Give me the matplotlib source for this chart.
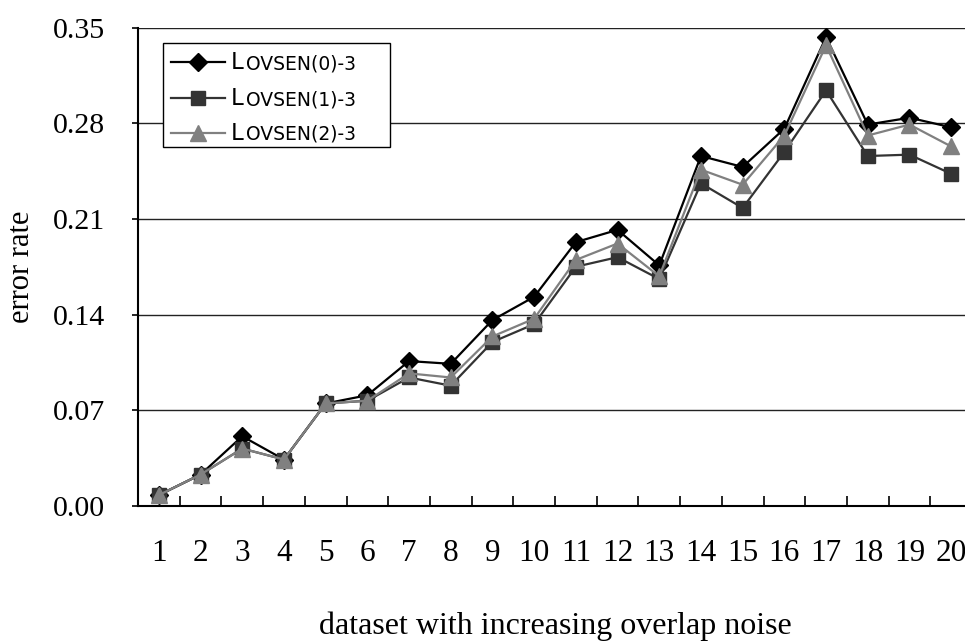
import numpy as np
import matplotlib
matplotlib.use("Agg")
import matplotlib.pyplot as plt
from matplotlib.transforms import Affine2D
from matplotlib.lines import Line2D
from matplotlib.patches import Rectangle

# ---- data ----
datasets = list(range(1, 21))
lovsen0 = [0.008, 0.023, 0.051, 0.034, 0.075, 0.081, 0.106, 0.104, 0.136, 0.153,
           0.193, 0.202, 0.176, 0.256, 0.248, 0.276, 0.343, 0.279, 0.284, 0.277]
lovsen1 = [0.008, 0.023, 0.042, 0.034, 0.075, 0.077, 0.094, 0.088, 0.120, 0.133,
           0.175, 0.182, 0.166, 0.236, 0.218, 0.259, 0.304, 0.256, 0.257, 0.243]
lovsen2 = [0.008, 0.023, 0.042, 0.034, 0.075, 0.077, 0.097, 0.094, 0.124, 0.137,
           0.180, 0.192, 0.168, 0.246, 0.235, 0.271, 0.337, 0.271, 0.279, 0.263]
series_labels = ["OVSEN(0)-3", "OVSEN(1)-3", "OVSEN(2)-3"]
yticks = [0.00, 0.07, 0.14, 0.21, 0.28, 0.35]

W, H = 965, 641
fig = plt.figure(figsize=(W / 100, H / 100), dpi=100)
ax = fig.add_axes([138 / W, (H - 506) / H, 834 / W, (506 - 27.5) / H])

serif = "Liberation Serif"
styles = [
    dict(color="#000000", marker="D", ms=9, mfc="#000000", mec="#000000"),
    dict(color="#333333", marker="s", ms=10, mfc="#333333", mec="#333333"),
    dict(color="#808080", marker="^", ms=11, mfc="#808080", mec="#808080"),
]
for vals, st in zip([lovsen0, lovsen1, lovsen2], styles):
    ax.plot(datasets, vals, lw=1.6, zorder=3, **st)

ax.set_xlim(0.5, 20.5)
ax.set_ylim(0, 0.35)
ax.set_yticks(yticks)
ax.set_yticklabels([f"{v:.2f}" for v in yticks], fontfamily=serif, fontsize=21.5)
ax.set_xticks(datasets)
ax.set_xticklabels([str(d) for d in datasets], fontfamily=serif, fontsize=22.5)
ax.set_xticks(np.arange(1.5, 20.5, 1.0), minor=True)
ax.tick_params(axis="x", which="major", length=0, pad=24)
ax.tick_params(axis="x", which="minor", direction="in", length=7, width=1.2, color="black")
ax.tick_params(axis="y", which="major", direction="out", length=4, width=1.2, pad=20)

for y in yticks[1:]:
    ax.axhline(y, color="#222222", lw=1.0, zorder=1)

for s in ["top", "right"]:
    ax.spines[s].set_visible(False)
for s in ["left", "bottom"]:
    ax.spines[s].set_linewidth(1.5)
    ax.spines[s].set_color("black")

ax.set_ylabel("error rate", fontfamily=serif, fontsize=22, labelpad=12)
ax.set_xlabel("dataset with increasing overlap noise", fontfamily=serif, fontsize=23, labelpad=31)

# ---- legend (pixel coordinates from the top-left) ----
T = Affine2D().scale(1 / W, -1 / H).translate(0, 1) + fig.transFigure
fig.add_artist(Rectangle((163, 43), 227, 104, transform=T, facecolor="white",
                         edgecolor="black", lw=1.0, zorder=5))
rows = [62, 98, 133]
for ry, lab, st in zip(rows, series_labels, styles):
    fig.add_artist(Line2D([171, 225], [ry, ry], transform=T, lw=1.6, color=st["color"], zorder=6))
    fig.add_artist(Line2D([198], [ry], transform=T, lw=0, marker=st["marker"], ms=st["ms"],
                          mfc=st["mfc"], mec=st["mec"], zorder=7))
    fig.text(231, ry + 7, "L", transform=T, fontfamily="DejaVu Sans", fontsize=16.5,
             va="baseline", ha="left", zorder=7)
    fig.text(246, ry + 7, lab, transform=T, fontfamily="DejaVu Sans", fontsize=13.5,
             va="baseline", ha="left", zorder=7)

fig.savefig("out.png", dpi=100)
